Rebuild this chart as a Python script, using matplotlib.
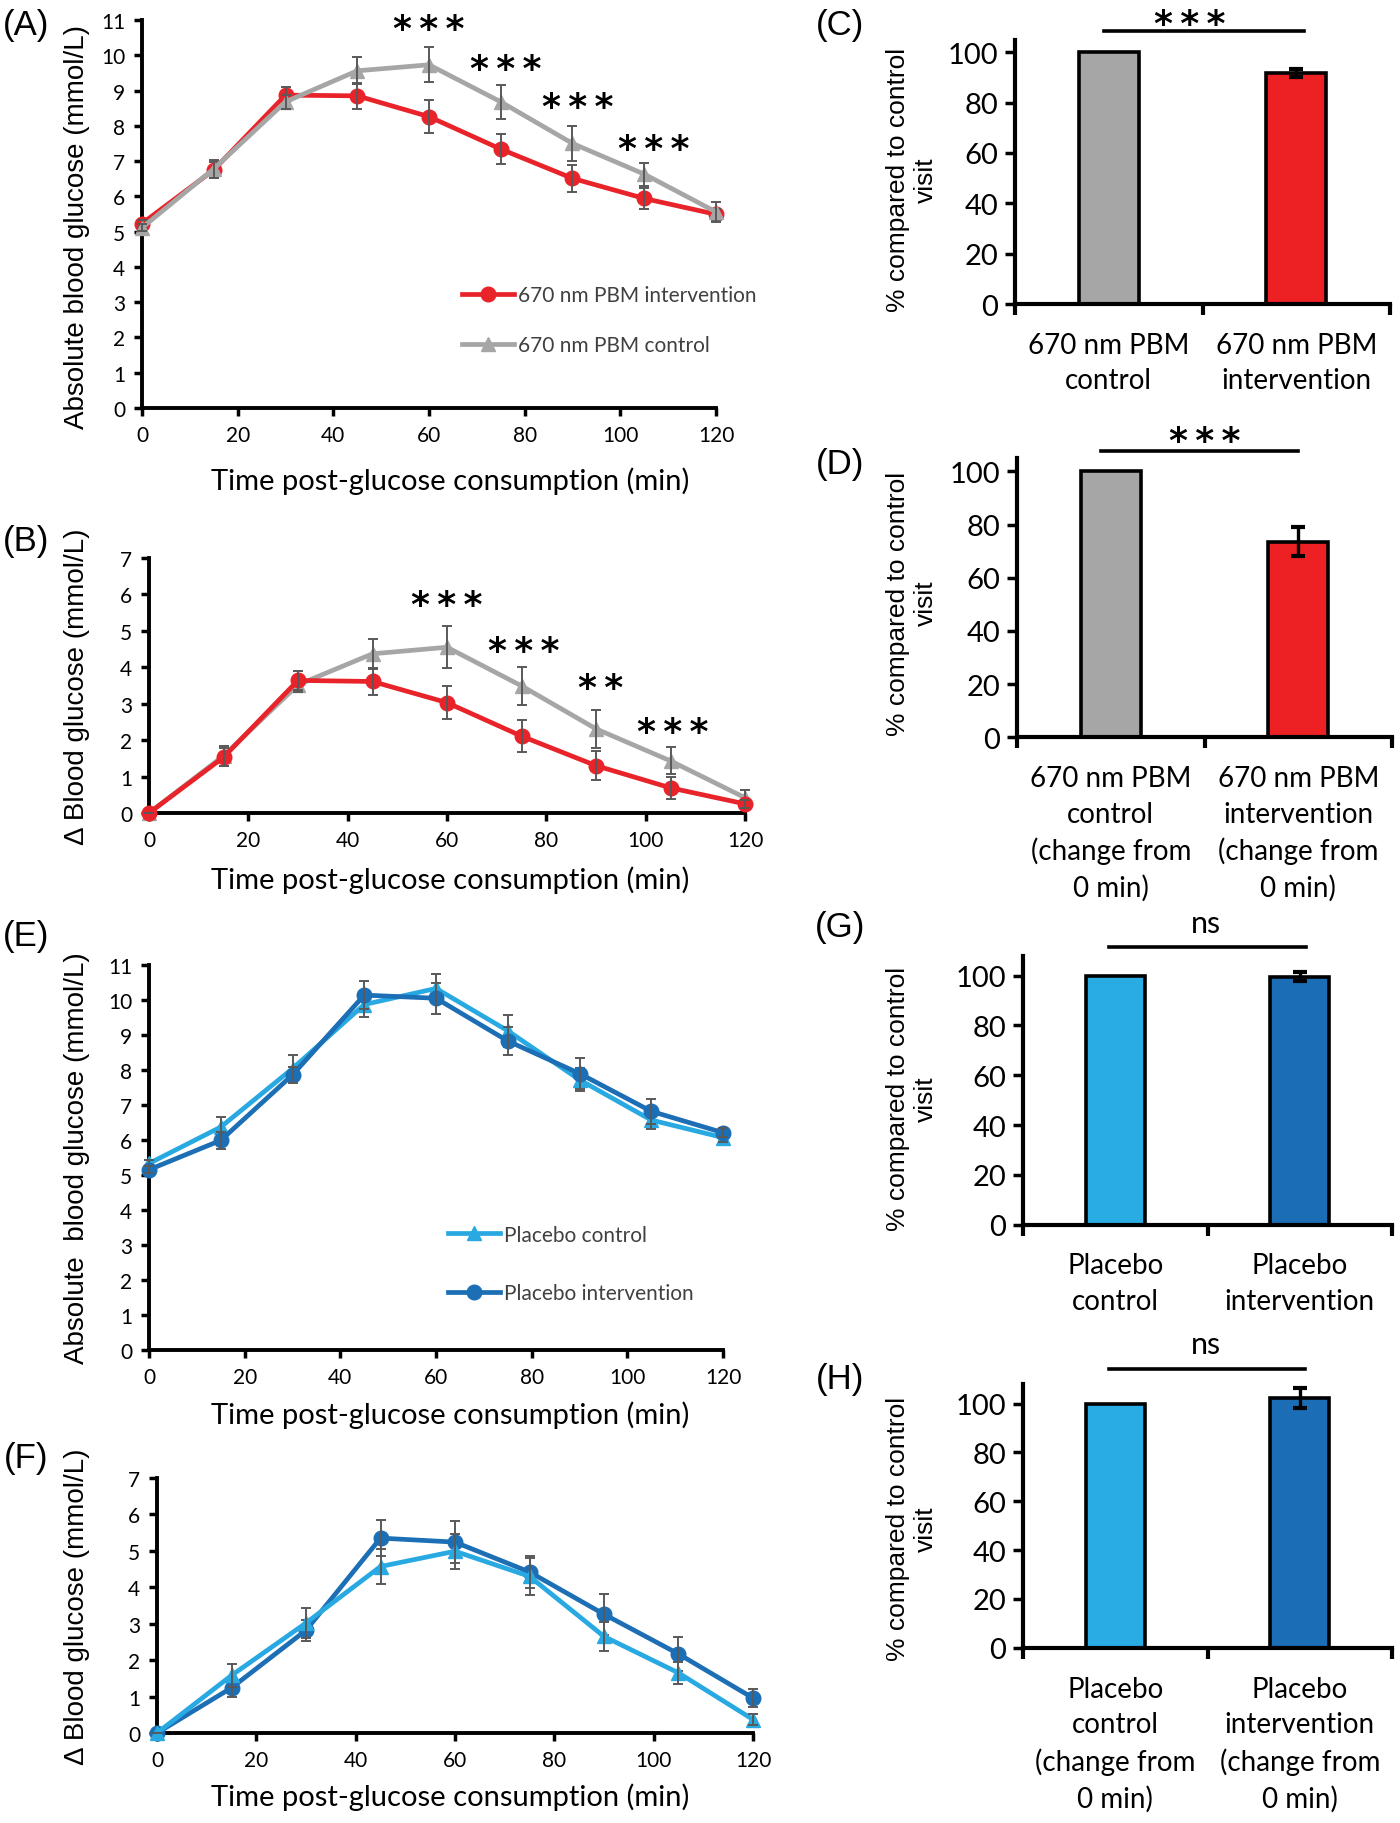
import matplotlib
matplotlib.use("Agg")
import matplotlib.pyplot as plt

plt.rcParams['font.family'] = ['Lato', 'DejaVu Sans']

# ==========================
# DADOS
# ==========================
time = [0, 15, 30, 45, 60, 75, 90, 105, 120]

# (A) 670 nm PBM - absoluto
pbm_int_abs = [5.23, 6.75, 8.87, 8.85, 8.26, 7.34, 6.51, 5.94, 5.49]
pbm_int_abs_err = [0.10, 0.22, 0.22, 0.37, 0.46, 0.43, 0.38, 0.31, 0.15]
pbm_ctl_abs = [5.11, 6.78, 8.68, 9.56, 9.73, 8.68, 7.50, 6.63, 5.56]
pbm_ctl_abs_err = [0.10, 0.25, 0.20, 0.38, 0.50, 0.48, 0.49, 0.33, 0.29]

# (B) 670 nm PBM - delta
pbm_int_delta = [0, 1.53, 3.64, 3.61, 3.03, 2.11, 1.30, 0.69, 0.25]
pbm_int_delta_err = [0, 0.25, 0.25, 0.38, 0.46, 0.44, 0.40, 0.30, 0.10]
pbm_ctl_delta = [0, 1.57, 3.52, 4.37, 4.55, 3.49, 2.31, 1.43, 0.42]
pbm_ctl_delta_err = [0, 0.27, 0.20, 0.42, 0.57, 0.53, 0.53, 0.37, 0.20]

# (E) placebo - absoluto
plc_ctl_abs = [5.33, 6.37, 8.04, 9.87, 10.33, 9.12, 7.72, 6.57, 6.07]
plc_ctl_abs_err = [0.10, 0.30, 0.38, 0.35, 0.42, 0.45, 0.33, 0.25, 0.12]
plc_int_abs = [5.15, 5.99, 7.86, 10.14, 10.05, 8.83, 7.90, 6.82, 6.21]
plc_int_abs_err = [0.10, 0.24, 0.23, 0.40, 0.45, 0.40, 0.43, 0.36, 0.12]

# (F) placebo - delta
plc_ctl_delta = [0, 1.58, 3.02, 4.57, 4.99, 4.30, 2.65, 1.65, 0.37]
plc_ctl_delta_err = [0, 0.31, 0.41, 0.48, 0.48, 0.50, 0.41, 0.30, 0.15]
plc_int_delta = [0, 1.24, 2.82, 5.35, 5.24, 4.42, 3.26, 2.17, 0.96]
plc_int_delta_err = [0, 0.26, 0.29, 0.50, 0.57, 0.43, 0.56, 0.46, 0.25]

# significancia (A) e (B)
stars_A_x = [60, 76, 91, 107]
stars_A_y = [10.9, 9.77, 8.7, 7.5]
stars_A_txt = ['***', '***', '***', '***']
stars_B_x = [60, 75.5, 91, 105.5]
stars_B_y = [5.87, 4.62, 3.6, 2.39]
stars_B_txt = ['***', '***', '**', '***']

# barras (C, D, G, H)
bars_C = [100, 91.8]
bars_C_err = [0, 1.5]
bars_D = [100, 73.6]
bars_D_err = [0, 5.3]
bars_G = [100, 99.5]
bars_G_err = [0, 1.8]
bars_H = [100, 102.2]
bars_H_err = [0, 4.0]

labels_C = ['670 nm PBM\ncontrol', '670 nm PBM\nintervention']
labels_D = ['670 nm PBM\ncontrol\n(change from\n0 min)',
            '670 nm PBM\nintervention\n(change from\n0 min)']
labels_G = ['Placebo\ncontrol', 'Placebo\nintervention']
labels_H = ['Placebo\ncontrol\n(change from\n0 min)',
            'Placebo\nintervention\n(change from\n0 min)']

# ==========================
# CORES
# ==========================
RED = '#E8232A'
GRAY = '#A6A6A6'
LBLUE = '#29A9E1'
DBLUE = '#1C6EB5'
ERR = '#595959'

W, H = 1400, 1824
fig = plt.figure(figsize=(W / 100, H / 100), dpi=100)


def px_axes(left, right, bottom, top):
    return fig.add_axes([left / W, 1 - bottom / H, (right - left) / W, (bottom - top) / H])


def star_text(s):
    return '\u2009'.join(list(s))


def serie(ax, y, err, color, marker, label, z):
    ax.plot(time, y, color=color, lw=3.4, marker=marker, ms=10.5,
            label=label, zorder=z, clip_on=False)
    ax.errorbar(time, y, yerr=err, fmt='none', ecolor=ERR, elinewidth=1.4,
                capsize=3.5, capthick=1.4, zorder=z + 0.5, clip_on=False)


def estilo_linha(ax, ymax, ylabel, ylx, yly, xlx, xly):
    ax.set_xlim(0, 120)
    ax.set_ylim(0, ymax)
    ax.set_xticks(range(0, 121, 20))
    ax.set_yticks(range(0, ymax + 1))
    for s in ['top', 'right']:
        ax.spines[s].set_visible(False)
    for s in ['left', 'bottom']:
        ax.spines[s].set_linewidth(2.8)
    ax.tick_params(direction='out', length=6, width=2.5, labelsize=15, pad=6)
    ax.set_ylabel(ylabel, family=['Liberation Sans', 'DejaVu Sans'], fontsize=20,
                  va='center', ha='center')
    ax.yaxis.set_label_coords(ylx, yly)
    ax.set_xlabel('Time post-glucose consumption (min)', fontsize=21, va='center')
    ax.xaxis.set_label_coords(xlx, xly)


def estrelas(ax, xs, ys, txts, size=26):
    for x, y, t in zip(xs, ys, txts):
        ax.annotate(star_text(t), (x, y), xytext=(0, -0.44 * size), textcoords='offset points',
                    ha='center', va='baseline', fontsize=size, fontweight='bold',
                    family=['DejaVu Sans'], annotation_clip=False)


def legenda(ax, x, y, spacing, order):
    h, l = ax.get_legend_handles_labels()
    h = [h[i] for i in order]
    l = [l[i] for i in order]
    leg = ax.legend(h, l, loc='center left', bbox_to_anchor=(x, y), frameon=False,
                    fontsize=15, handlelength=2.5, handletextpad=0.2,
                    labelspacing=spacing, borderpad=0, borderaxespad=0)
    for t in leg.get_texts():
        t.set_color('#404040')


# ==========================
# (A)
# ==========================
axA = px_axes(142, 716, 409, 21)
serie(axA, pbm_int_abs, pbm_int_abs_err, RED, 'o', '670 nm PBM intervention', 3)
serie(axA, pbm_ctl_abs, pbm_ctl_abs_err, GRAY, '^', '670 nm PBM control', 5)
estilo_linha(axA, 11, 'Absolute blood glucose (mmol/L)', -0.113, 0.47, 0.537, -0.186)
estrelas(axA, stars_A_x, stars_A_y, stars_A_txt)
legenda(axA, 0.557, 0.226, 1.45, [0, 1])

# ==========================
# (B)
# ==========================
axB = px_axes(149, 745, 814, 559)
serie(axB, pbm_ctl_delta, pbm_ctl_delta_err, GRAY, '^', '670 nm PBM control', 3)
serie(axB, pbm_int_delta, pbm_int_delta_err, RED, 'o', '670 nm PBM intervention', 5)
estilo_linha(axB, 7, '\u0394 Blood glucose (mmol/L)', -0.121, 0.5, 0.505, -0.259)
estrelas(axB, stars_B_x, stars_B_y, stars_B_txt)

# ==========================
# (E)
# ==========================
axE = px_axes(149, 723, 1351, 966)
serie(axE, plc_ctl_abs, plc_ctl_abs_err, LBLUE, '^', 'Placebo control', 3)
serie(axE, plc_int_abs, plc_int_abs_err, DBLUE, 'o', 'Placebo intervention', 5)
estilo_linha(axE, 11, 'Absolute  blood glucose (mmol/L)', -0.125, 0.5, 0.524, -0.166)
legenda(axE, 0.521, 0.2235, 1.85, [0, 1])

# ==========================
# (F)
# ==========================
axF = px_axes(157, 753, 1734, 1479)
serie(axF, plc_int_delta, plc_int_delta_err, DBLUE, 'o', 'Placebo intervention', 3)
serie(axF, plc_ctl_delta, plc_ctl_delta_err, LBLUE, '^', 'Placebo control', 5)
estilo_linha(axF, 7, '\u0394 Blood glucose (mmol/L)', -0.134, 0.5, 0.492, -0.247)


# ==========================
# BARRAS
# ==========================
def barras(rect, vals, errs, cores, labels, ymax, ylx, yly, sig, sig_y, line_y,
           line_x0, line_x1, sig_x, sig_size, sig_off, star=True):
    ax = px_axes(*rect)
    x = [0, 1]
    ax.bar(x, vals, width=0.32, color=cores, edgecolor='black', linewidth=2.6, zorder=2)
    ax.errorbar(x[1], vals[1], yerr=errs[1], fmt='none', ecolor='black',
                elinewidth=2.4, capsize=5, capthick=3, zorder=3)
    ax.set_xlim(-0.5, 1.5)
    ax.set_ylim(0, ymax)
    ax.set_yticks(range(0, 101, 20))
    ax.set_xticks([-0.5, 0.5, 1.5])
    ax.set_xticklabels([])
    ax.set_xticks(x, labels, minor=True)
    ax.tick_params(axis='x', which='major', direction='out', length=8, width=3)
    ax.tick_params(axis='x', which='minor', length=0, labelsize=20, pad=20)
    for t in ax.get_xticklabels(minor=True):
        t.set_linespacing(1.45)
    ax.tick_params(axis='y', direction='out', length=7, width=2.5, labelsize=21, pad=5)
    for s in ['top', 'right']:
        ax.spines[s].set_visible(False)
    for s in ['left', 'bottom']:
        ax.spines[s].set_linewidth(3)
    ax.set_ylabel('% compared to control\nvisit', family=['Liberation Sans', 'DejaVu Sans'],
                  fontsize=19, linespacing=1.2, va='center', ha='center')
    ax.yaxis.set_label_coords(ylx, yly)
    ax.plot([line_x0, line_x1], [line_y, line_y], color='black', lw=2.6, clip_on=False)
    if star:
        ax.annotate(star_text(sig), (sig_x, sig_y), xytext=(0, -0.44 * sig_size),
                    textcoords='offset points', ha='center', va='baseline',
                    fontsize=sig_size, fontweight='bold', family=['DejaVu Sans'],
                    annotation_clip=False)
    else:
        ax.annotate(sig, (sig_x, sig_y), xytext=(0, -sig_off),
                    textcoords='offset points', ha='center', va='baseline',
                    fontsize=sig_size, annotation_clip=False)
    return ax


barras((1015, 1390, 305, 40.7), bars_C, bars_C_err, [GRAY, '#ED2024'], labels_C, 105,
       -0.275, 0.473, '***', 113.7, 108.3, -0.025, 1.04, 0.43, 26, 0)
barras((1017, 1392, 738.4, 459), bars_D, bars_D_err, [GRAY, '#ED2024'], labels_D, 105,
       -0.28, 0.483, '***', 113.7, 107.5, -0.05, 1.0, 0.5, 26, 0)
barras((1023, 1392, 1225.6, 956.8), bars_G, bars_G_err, ['#29ABE3', '#1B6EB5'], labels_G, 108,
       -0.30, 0.47, 'ns', 120.8, 111.4, -0.035, 1.035, 0.49, 22, 5.7, star=False)
barras((1023, 1392, 1648.8, 1385), bars_H, bars_H_err, ['#29ABE3', '#1B6EB5'], labels_H, 108,
       -0.30, 0.454, 'ns', 124, 114.3, -0.035, 1.03, 0.49, 22, 5.7, star=False)

# ==========================
# LETRAS DOS PAINEIS
# ==========================
letras = [('(A)', 26, 26), ('(B)', 26, 541), ('(E)', 26, 937), ('(F)', 26, 1459),
          ('(C)', 840, 26), ('(D)', 840, 465), ('(G)', 840, 928), ('(H)', 840, 1380)]
for txt, px, py in letras:
    fig.text(px / W, 1 - py / H, txt, ha='center', va='center', fontsize=25,
             family=['Liberation Sans', 'DejaVu Sans'])

fig.savefig('out.png', dpi=100)
